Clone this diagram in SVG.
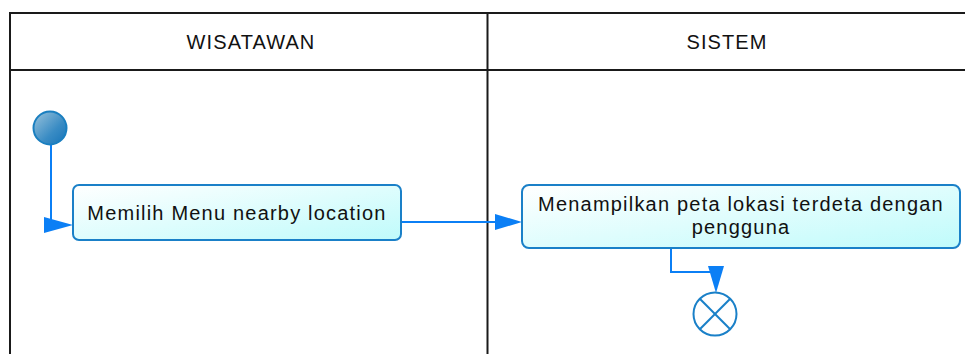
<svg xmlns="http://www.w3.org/2000/svg" width="965" height="354" viewBox="0 0 965 354">
<style>
.lane{stroke:#1a1a1a;stroke-width:2;fill:none}
.hdr{font-family:"Liberation Sans",Arial,sans-serif;font-size:20px;letter-spacing:1.1px;fill:#111;text-anchor:middle}
.lbl{font-family:"Liberation Sans",Arial,sans-serif;font-size:20px;letter-spacing:1.2px;fill:#111;text-anchor:middle}
.act{fill:url(#actGrad);stroke:#1a80c8;stroke-width:2}
.flow{stroke:#0b7ff5;stroke-width:2;fill:none}
.head{fill:#0b7ff5}
</style>
<defs>
<linearGradient id="actGrad" x1="0" y1="0" x2="1" y2="1">
<stop offset="0" stop-color="#ffffff"/>
<stop offset="1" stop-color="#bffbfb"/>
</linearGradient>
<linearGradient id="startGrad" x1="0" y1="0" x2="1" y2="1">
<stop offset="0" stop-color="#9cc4dc"/>
<stop offset="0.6" stop-color="#3a8cc4"/>
<stop offset="1" stop-color="#1573b8"/>
</linearGradient>
</defs>
<rect width="965" height="354" fill="#ffffff"/>
<g id="swimlanes">
<line class="lane" x1="10" y1="13" x2="965" y2="13"/>
<line class="lane" x1="10" y1="70" x2="965" y2="70"/>
<line class="lane" x1="10" y1="12" x2="10" y2="354"/>
<line class="lane" x1="487.5" y1="12" x2="487.5" y2="354"/>
<text class="hdr" x="251" y="49">WISATAWAN</text>
<text class="hdr" x="727" y="49">SISTEM</text>
</g>
<g id="connectors">
<path class="flow" d="M51 145 V225 H48"/>
<polygon class="head" points="44,217 73,225 44,233"/>
<path class="flow" d="M401 222 H496"/>
<polygon class="head" points="495,214 522,222 495,230"/>
<path class="flow" d="M671 248 V272 H716 V268"/>
<polygon class="head" points="708,266 724,266 716,293"/>
</g>
<g id="start">
<circle cx="50" cy="128" r="16.5" fill="url(#startGrad)" stroke="#1a7fc0" stroke-width="2"/>
</g>
<g id="act1">
<rect class="act" x="73" y="185" width="328" height="55" rx="6"/>
<text class="lbl" x="237" y="220">Memilih Menu nearby location</text>
</g>
<g id="act2">
<rect class="act" x="522" y="185" width="438" height="63" rx="7"/>
<text class="lbl" x="741" y="211">Menampilkan peta lokasi terdeta dengan</text>
<text class="lbl" x="741" y="234">pengguna</text>
</g>
<g id="end">
<circle cx="715" cy="314" r="21.5" fill="#ffffff" stroke="#1a80c8" stroke-width="2"/>
<line x1="699.8" y1="298.8" x2="730.2" y2="329.2" stroke="#1a80c8" stroke-width="2"/>
<line x1="730.2" y1="298.8" x2="699.8" y2="329.2" stroke="#1a80c8" stroke-width="2"/>
</g>
</svg>
